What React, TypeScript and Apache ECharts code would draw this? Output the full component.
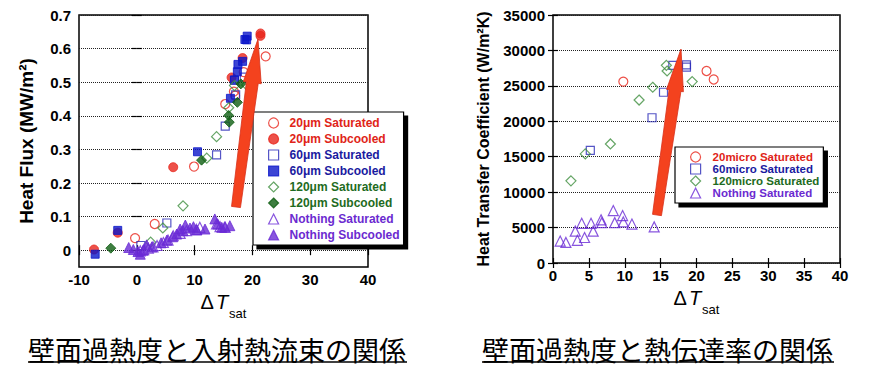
import { useEffect, useRef } from 'react';
import * as echarts from 'echarts';

// ---------- Left chart: heat flux vs wall superheat ----------
const fluxXTicks = [-10, 0, 10, 20, 30, 40];
const fluxYTicks = [0, 0.1, 0.2, 0.3, 0.4, 0.5, 0.6, 0.7];

const flux20Sat = [[-0.3, 0.036], [3.1, 0.078], [9.9, 0.249], [15.3, 0.435], [16.8, 0.472], [17.0, 0.46], [18.5, 0.53], [22.3, 0.577]];
const flux20Sub = [[-7.4, 0.002], [-3.3, 0.052], [6.3, 0.247], [16.4, 0.514], [18.3, 0.572], [21.4, 0.645], [21.4, 0.638]];
const flux60Sat = [[0.7, 0.014], [5.2, 0.081], [13.8, 0.284], [15.3, 0.369], [17.1, 0.462], [16.9, 0.505], [18.6, 0.515]];
const flux60Sub = [[-7.2, -0.012], [-3.3, 0.059], [10.5, 0.293], [16.2, 0.452], [16.9, 0.507], [17.4, 0.531], [17.5, 0.553], [18.3, 0.562], [18.7, 0.627], [19.1, 0.637], [19.0, 0.626]];
const flux120Sat = [[2.4, 0.024], [4.5, 0.066], [8.0, 0.132], [12.1, 0.274], [13.8, 0.338], [15.9, 0.424], [16.9, 0.49], [19.0, 0.492]];
const flux120Sub = [[-4.5, 0.006], [11.2, 0.268], [15.9, 0.401], [16.0, 0.381], [17.4, 0.44], [18.0, 0.495]];
const fluxNothingSat = [[0.6, -0.002], [1.2, 0.002], [2.0, 0.006], [2.8, 0.01], [3.5, 0.014], [4.6, 0.023], [5.4, 0.03], [6.3, 0.043], [7.5, 0.05], [8.6, 0.058], [10.3, 0.062], [10.9, 0.068], [13.8, 0.078], [14.4, 0.07], [15.3, 0.068]];
const fluxNothingSub = [[-1.4, 0.008], [-0.6, 0.002], [0.2, -0.004], [0.6, -0.012], [1.1, 0.0], [1.7, 0.016], [2.6, 0.01], [4.2, 0.022], [5.2, 0.03], [6.2, 0.04], [6.9, 0.048], [7.5, 0.063], [8.0, 0.058], [8.4, 0.075], [9.2, 0.066], [9.8, 0.07], [10.4, 0.06], [11.8, 0.063], [13.5, 0.093], [14.0, 0.078], [14.7, 0.068], [15.2, 0.07], [16.1, 0.073]];

// ---------- Right chart: heat transfer coefficient ----------
const htcXTicks = [0, 5, 10, 15, 20, 25, 30, 35, 40];
const htcYTicks = [0, 5000, 10000, 15000, 20000, 25000, 30000, 35000];

const htc20Sat = [[9.8, 25600], [21.4, 27100], [22.4, 25900]];
const htc60Sat = [[5.2, 15900], [13.8, 20500], [15.4, 24100], [16.7, 27900], [18.6, 27950], [18.6, 27650]];
const htc120Sat = [[2.5, 11600], [4.5, 15400], [8.0, 16800], [12.0, 23000], [13.9, 24800], [15.8, 27900], [15.9, 27100], [19.4, 25600]];
const htcNothingSat = [[1.0, 3100], [1.8, 2900], [3.1, 4500], [3.4, 3200], [4.0, 5600], [4.4, 3600], [5.3, 5600], [5.6, 4500], [6.7, 6100], [6.8, 5700], [8.4, 7400], [8.6, 5700], [9.7, 6700], [9.8, 5800], [11.0, 5500], [14.1, 5100]];

const captionLeft = '壁面過熱度と入射熱流束の関係';
const captionRight = '壁面過熱度と熱伝達率の関係';

const FONT = "'Liberation Sans', Arial, sans-serif";
const RED = '#e8261c';
const BLUE = '#0b17c9';
const BLUE_H = '#2a2ab8';
const GREEN_H = '#3f8f3f';
const GREEN = '#0e5e12';
const PURPLE = '#6a2bd6';

const LT_RED = '#e02418';
const LT_BLUE = '#1a1aa0';
const LT_GREEN = '#1e6b22';
const LT_PURPLE = '#6b2ad0';

function arrow(tail: number[], tip: number[], shaftTail: number, shaftHead: number, headHalf: number, headLen: number) {
  const dx = tip[0] - tail[0];
  const dy = tip[1] - tail[1];
  const len = Math.sqrt(dx * dx + dy * dy);
  const ux = dx / len, uy = dy / len;
  const nx = -uy, ny = ux;
  const bx = tip[0] - ux * headLen, by = tip[1] - uy * headLen;
  return [
    [tail[0] + nx * shaftTail, tail[1] + ny * shaftTail],
    [bx + nx * shaftHead, by + ny * shaftHead],
    [bx + nx * headHalf, by + ny * headHalf],
    [tip[0], tip[1]],
    [bx - nx * headHalf, by - ny * headHalf],
    [bx - nx * shaftHead, by - ny * shaftHead],
    [tail[0] - nx * shaftTail, tail[1] - ny * shaftTail],
  ];
}

function hollow(color: string) {
  return { color: 'rgba(255,255,255,0)', borderColor: color, borderWidth: 1.2 };
}
function filled(color: string) {
  return { color, borderColor: color, borderWidth: 1 };
}

const tickLabel = { fontFamily: FONT, fontWeight: 'bold' as const, fontSize: 15, color: '#000' };
const xName = '{d|Δ}{t|T}{s|sat}';
const xNameRich = {
  d: { fontFamily: FONT, fontSize: 20, color: '#000', padding: [0, 2, 8, 0], verticalAlign: 'bottom' },
  t: { fontFamily: FONT, fontSize: 20, fontStyle: 'italic', color: '#000', padding: [0, 1, 8, 0], verticalAlign: 'bottom' },
  s: { fontFamily: FONT, fontSize: 13, color: '#000', verticalAlign: 'bottom' },
};
const gridSplit = { show: true, lineStyle: { type: 'dotted' as const, color: '#222', width: 1 } };
const innerTick = { show: true, inside: true, length: 5, lineStyle: { color: '#000', width: 1.2 } };

export default function App() {
  const ref = useRef<HTMLDivElement>(null);
  useEffect(() => {
    if (!ref.current) return;
    const chart = echarts.init(ref.current, null, { renderer: 'svg' });
    const legendCommon = {
      orient: 'vertical' as const,
      selectedMode: false,
      backgroundColor: '#fff',
      borderColor: '#000',
      borderWidth: 1.2,
      shadowColor: '#000',
      shadowBlur: 0,
      shadowOffsetX: 4,
      shadowOffsetY: 4,
      itemWidth: 10,
      itemHeight: 10,
      itemGap: 0,
      itemStyle: { borderWidth: 1.2 },
      z: 5,
    };
    const option: any = {
      animation: false,
      backgroundColor: '#fff',
      grid: [
        { left: 79, top: 15, width: 289, height: 252, show: true, borderColor: '#000', borderWidth: 1.5, backgroundColor: 'transparent' },
        { left: 553, top: 15, width: 287, height: 248, show: true, borderColor: '#000', borderWidth: 1.5, backgroundColor: 'transparent' },
      ],
      xAxis: [
        {
          gridIndex: 0, type: 'value', position: 'bottom', min: fluxXTicks[0], max: fluxXTicks[fluxXTicks.length - 1], interval: 10,
          axisLine: { show: false }, axisTick: innerTick, splitLine: { show: false },
          axisLabel: { ...tickLabel, margin: 5, formatter: (v: number) => String(v) },
          name: xName, nameLocation: 'middle', nameGap: 21, nameTextStyle: { rich: xNameRich },
        },
        {
          gridIndex: 0, type: 'value', position: 'top', min: fluxXTicks[0], max: fluxXTicks[fluxXTicks.length - 1], interval: 10,
          axisLine: { show: false }, axisTick: innerTick, axisLabel: { show: false }, splitLine: { show: false },
        },
        {
          gridIndex: 1, type: 'value', position: 'bottom', min: htcXTicks[0], max: htcXTicks[htcXTicks.length - 1], interval: 5,
          axisLine: { show: false }, axisTick: innerTick, splitLine: { show: false },
          axisLabel: { ...tickLabel, margin: 5, formatter: (v: number) => String(v) },
          name: xName, nameLocation: 'middle', nameGap: 22, nameTextStyle: { rich: xNameRich },
        },
        {
          gridIndex: 1, type: 'value', position: 'top', min: htcXTicks[0], max: htcXTicks[htcXTicks.length - 1], interval: 5,
          axisLine: { show: false }, axisTick: innerTick, axisLabel: { show: false }, splitLine: { show: false },
        },
      ],
      yAxis: [
        {
          gridIndex: 0, type: 'value', position: 'left', min: -0.05, max: 0.7,
          axisLine: { show: false },
          axisTick: { ...innerTick, customValues: fluxYTicks },
          axisLabel: { ...tickLabel, margin: 8, customValues: fluxYTicks, formatter: (v: number) => String(v) },
          splitLine: gridSplit,
          name: 'Heat Flux (MW/m²)', nameLocation: 'middle', nameGap: 43,
          nameTextStyle: { fontFamily: FONT, fontWeight: 'bold', fontSize: 19, color: '#000' },
        },
        {
          gridIndex: 0, type: 'value', position: 'right', min: -0.05, max: 0.7,
          axisLine: { show: false },
          axisTick: { ...innerTick, customValues: fluxYTicks },
          axisLabel: { show: false, customValues: fluxYTicks },
          splitLine: { show: false },
        },
        {
          gridIndex: 1, type: 'value', position: 'left', min: htcYTicks[0], max: htcYTicks[htcYTicks.length - 1], interval: 5000,
          axisLine: { show: false }, axisTick: innerTick,
          axisLabel: { ...tickLabel, margin: 8, formatter: (v: number) => String(v) },
          splitLine: gridSplit,
          name: 'Heat Transfer Coefficient (W/m²K)', nameLocation: 'middle', nameGap: 62,
          nameTextStyle: { fontFamily: FONT, fontWeight: 'bold', fontSize: 16, color: '#000' },
        },
        {
          gridIndex: 1, type: 'value', position: 'right', min: htcYTicks[0], max: htcYTicks[htcYTicks.length - 1], interval: 5000,
          axisLine: { show: false }, axisTick: innerTick, axisLabel: { show: false }, splitLine: { show: false },
        },
      ],
      legend: [
        {
          ...legendCommon,
          left: 253, top: 112, padding: [3, 4, 2, 15],
          textStyle: { fontFamily: FONT, fontWeight: 'bold', fontSize: 12, lineHeight: 16, padding: [0, 0, 0, 6] },
          data: [
            { name: '20μm Saturated', textStyle: { color: LT_RED } },
            { name: '20μm Subcooled', textStyle: { color: LT_RED } },
            { name: '60μm Saturated', textStyle: { color: LT_BLUE } },
            { name: '60μm Subcooled', textStyle: { color: LT_BLUE } },
            { name: '120μm Saturated', textStyle: { color: LT_GREEN } },
            { name: '120μm Subcooled', textStyle: { color: LT_GREEN } },
            { name: 'Nothing Saturated', textStyle: { color: LT_PURPLE } },
            { name: 'Nothing Subcooled', textStyle: { color: LT_PURPLE } },
          ],
        },
        {
          ...legendCommon,
          left: 675, top: 147, padding: [4, 4, 4, 15],
          textStyle: { fontFamily: FONT, fontWeight: 'bold', fontSize: 11.5, lineHeight: 12, padding: [0, 0, 0, 7] },
          data: [
            { name: '20micro Saturated', textStyle: { color: LT_RED } },
            { name: '60micro Saturated', textStyle: { color: LT_BLUE } },
            { name: '120micro Saturated', textStyle: { color: LT_GREEN } },
            { name: 'Nothing Saturated ', textStyle: { color: LT_PURPLE } },
          ],
        },
      ],
      series: [
        { name: '20μm Saturated', type: 'scatter', xAxisIndex: 0, yAxisIndex: 0, symbol: 'circle', symbolSize: 9, itemStyle: hollow(RED), data: flux20Sat },
        { name: '20μm Subcooled', type: 'scatter', xAxisIndex: 0, yAxisIndex: 0, symbol: 'circle', symbolSize: 9, itemStyle: filled(RED), data: flux20Sub },
        { name: '60μm Saturated', type: 'scatter', xAxisIndex: 0, yAxisIndex: 0, symbol: 'rect', symbolSize: 8, itemStyle: hollow(BLUE_H), data: flux60Sat },
        { name: '60μm Subcooled', type: 'scatter', xAxisIndex: 0, yAxisIndex: 0, symbol: 'rect', symbolSize: 8, itemStyle: filled(BLUE), data: flux60Sub },
        { name: '120μm Saturated', type: 'scatter', xAxisIndex: 0, yAxisIndex: 0, symbol: 'diamond', symbolSize: 10, itemStyle: hollow(GREEN_H), data: flux120Sat },
        { name: '120μm Subcooled', type: 'scatter', xAxisIndex: 0, yAxisIndex: 0, symbol: 'diamond', symbolSize: 10, itemStyle: filled(GREEN), data: flux120Sub },
        { name: 'Nothing Saturated', type: 'scatter', xAxisIndex: 0, yAxisIndex: 0, symbol: 'triangle', symbolSize: 10, itemStyle: hollow(PURPLE), data: fluxNothingSat },
        { name: 'Nothing Subcooled', type: 'scatter', xAxisIndex: 0, yAxisIndex: 0, symbol: 'triangle', symbolSize: 10, itemStyle: filled(PURPLE), data: fluxNothingSub },
        { name: '20micro Saturated', type: 'scatter', xAxisIndex: 2, yAxisIndex: 2, symbol: 'circle', symbolSize: 9, itemStyle: hollow(RED), data: htc20Sat },
        { name: '60micro Saturated', type: 'scatter', xAxisIndex: 2, yAxisIndex: 2, symbol: 'rect', symbolSize: 8, itemStyle: hollow(BLUE_H), data: htc60Sat },
        { name: '120micro Saturated', type: 'scatter', xAxisIndex: 2, yAxisIndex: 2, symbol: 'diamond', symbolSize: 10, itemStyle: hollow(GREEN_H), data: htc120Sat },
        { name: 'Nothing Saturated ', type: 'scatter', xAxisIndex: 2, yAxisIndex: 2, symbol: 'triangle', symbolSize: 10, itemStyle: hollow(PURPLE), data: htcNothingSat },
      ],
      graphic: [
        { type: 'polygon', z: 100, shape: { points: arrow([236, 207], [258, 39], 4.5, 6, 9, 44) }, style: { fill: '#f4421e', stroke: '#d8301a', lineWidth: 0.8 } },
        { type: 'polygon', z: 100, shape: { points: arrow([657, 215], [681, 49], 4.5, 6, 8.5, 42) }, style: { fill: '#f4421e', stroke: '#d8301a', lineWidth: 0.8 } },
        { type: 'text', z: 100, x: 28, y: 349, style: { text: captionLeft, fontFamily: "'Noto Sans CJK JP', sans-serif", fontSize: 27, fill: '#000', textAlign: 'left', textVerticalAlign: 'middle' } },
        { type: 'line', z: 100, shape: { x1: 28, y1: 362, x2: 407, y2: 362 }, style: { stroke: '#000', lineWidth: 1.5 } },
        { type: 'text', z: 100, x: 482, y: 349, style: { text: captionRight, fontFamily: "'Noto Sans CJK JP', sans-serif", fontSize: 27, fill: '#000', textAlign: 'left', textVerticalAlign: 'middle' } },
        { type: 'line', z: 100, shape: { x1: 482, y1: 362, x2: 834, y2: 362 }, style: { stroke: '#000', lineWidth: 1.5 } },
      ],
    };
    chart.setOption(option);
    return () => chart.dispose();
  }, []);
  return <div ref={ref} style={{ position: 'absolute', left: 0, top: 0, width: 870, height: 370 }} />;
}
